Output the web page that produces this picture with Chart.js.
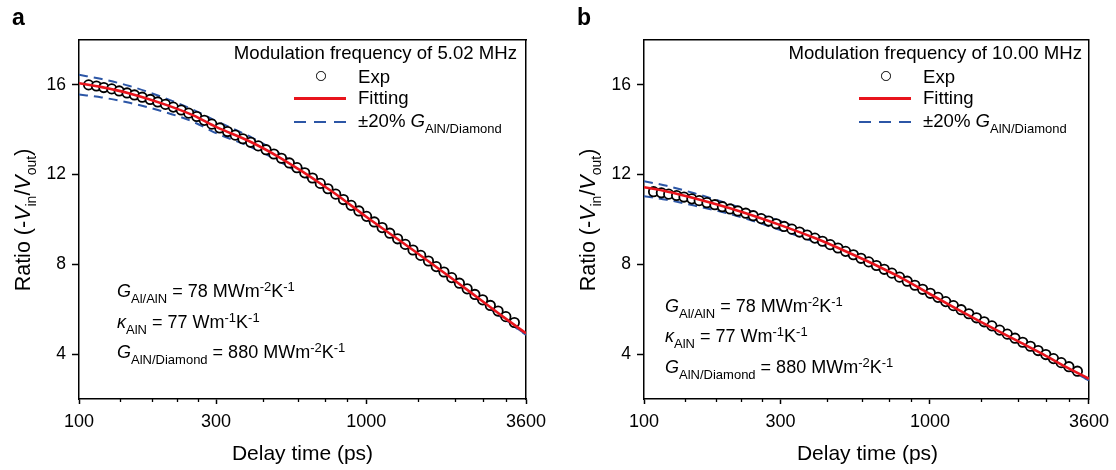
<!DOCTYPE html>
<html>
<head>
<meta charset="utf-8">
<script src="https://cdn.jsdelivr.net/npm/chart.js@4.4.1/dist/chart.umd.min.js"></script>
<style>
  html, body { margin:0; padding:0; background:#fff; }
  body { width:1116px; height:470px; position:relative; overflow:hidden;
         font-family:"Liberation Sans", Arial, Helvetica, sans-serif; color:#000; }
  canvas { position:absolute; top:0; }
  .txt { position:absolute; white-space:nowrap; line-height:1; }
  .sub { font-size:13px; position:relative; top:6px; }
  .sup { font-size:13px; position:relative; top:-6px; }
  .ytitle { position:absolute; white-space:nowrap; line-height:1; font-size:21.5px;
            transform:translate(-50%,-50%) rotate(-90deg); }
  .ytitle .sub { font-size:14px; top:6px; }
  .sym { position:absolute; }
</style>
</head>
<body>
<canvas id="chartA" width="558" height="470" style="left:0;width:558px;height:470px"></canvas>
<canvas id="chartB" width="558" height="470" style="left:558px;width:558px;height:470px"></canvas>
<script>
// measured delay times (ps), same sampling in both panels
const delayPs = [108, 115, 122, 130, 138, 147, 156, 166, 177, 188, 200, 213, 227, 241, 257, 273,
  290, 309, 329, 350, 372, 396, 421, 448, 477, 507, 540, 574, 611, 650, 692, 736, 783, 833, 886,
  943, 1003, 1067, 1136, 1208, 1286, 1368, 1455, 1548, 1647, 1753, 1865, 1984, 2111, 2246, 2390,
  2543, 2705, 2878, 3063, 3280];

// a: 5.02 MHz
const ratioExpA = [16.00, 15.95, 15.88, 15.82, 15.73, 15.64, 15.55, 15.45, 15.35, 15.24, 15.13,
  15.01, 14.88, 14.74, 14.59, 14.42, 14.25, 14.08, 13.92, 13.76, 13.60, 13.44, 13.28, 13.11, 12.92,
  12.73, 12.52, 12.31, 12.08, 11.85, 11.61, 11.37, 11.13, 10.89, 10.63, 10.38, 10.14, 9.89, 9.64,
  9.39, 9.14, 8.89, 8.64, 8.40, 8.15, 7.90, 7.66, 7.41, 7.16, 6.91, 6.66, 6.42, 6.17, 5.92, 5.67, 5.41];

// b: 10.00 MHz
const ratioExpB = [11.24, 11.19, 11.13, 11.07, 11.00, 10.92, 10.84, 10.75, 10.66, 10.57, 10.47,
  10.38, 10.28, 10.17, 10.04, 9.93, 9.81, 9.69, 9.57, 9.44, 9.31, 9.17, 9.03, 8.88, 8.73, 8.58,
  8.43, 8.27, 8.11, 7.95, 7.78, 7.61, 7.43, 7.25, 7.07, 6.89, 6.71, 6.53, 6.34, 6.16, 5.98, 5.80,
  5.62, 5.44, 5.26, 5.07, 4.89, 4.71, 4.53, 4.35, 4.16, 3.98, 3.80, 3.62, 3.44, 3.24];

// model curves
const fitDelayPs = [100, 120, 150, 200, 250, 300, 400, 500, 600, 700, 800, 1000, 1200, 1500, 2000, 2500, 3000, 3600];
const ratioFitA   = [16.07, 15.90, 15.62, 15.12, 14.64, 14.13, 13.43, 12.76, 12.13, 11.56, 11.05, 10.12, 9.40, 8.52, 7.35, 6.42, 5.66, 4.93];
const ratioUpperA = [16.45, 16.26, 15.95, 15.40, 14.89, 14.39, 13.65, 12.94, 12.28, 11.68, 11.14, 10.17, 9.42, 8.49, 7.30, 6.36, 5.60, 4.87];
const ratioLowerA = [15.57, 15.44, 15.20, 14.78, 14.35, 13.85, 13.21, 12.58, 11.98, 11.43, 10.94, 10.03, 9.32, 8.44, 7.26, 6.34, 5.58, 4.86];
const ratioFitB   = [11.44, 11.25, 10.95, 10.50, 10.10, 9.75, 9.15, 8.62, 8.16, 7.75, 7.38, 6.68, 6.12, 5.45, 4.62, 3.98, 3.42, 2.90];
const ratioUpperB = [11.71, 11.50, 11.17, 10.68, 10.26, 9.93, 9.30, 8.74, 8.26, 7.82, 7.43, 6.70, 6.10, 5.40, 4.56, 3.92, 3.36, 2.84];
const ratioLowerB = [11.04, 10.88, 10.62, 10.24, 9.87, 9.53, 8.98, 8.48, 8.04, 7.65, 7.29, 6.60, 6.06, 5.38, 4.54, 3.90, 3.35, 2.83];

const xMajorTicks = [100, 300, 1000, 3600];
const xMinorTicks = [140, 180, 220, 260, 440, 580, 720, 860, 1520, 2040, 2560, 3080];
const yTicks = [4, 8, 12, 16];

const FONT = '"Liberation Sans", Arial, Helvetica, sans-serif';
const RED = '#e8141c';
const BLUE = '#2c56a6';

const pts = (xs, ys) => xs.map((x, i) => ({ x, y: ys[i] }));
const fixW = w => s => { s.width = w; };
const fixH = h => s => { s.height = h; };
const setTicks = list => s => { s.ticks = list.map(v => ({ value: v })); };

function makePanel(id, plotLeft, padRight, exp, fit, upper, lower) {
  const dashed = ys => ({
    data: pts(fitDelayPs, ys), borderColor: BLUE, borderWidth: 2, borderDash: [9, 6],
    pointRadius: 0, cubicInterpolationMode: 'monotone', order: 2
  });
  const frame = { color: '#000', width: 1.5 };
  return new Chart(document.getElementById(id), {
    type: 'line',
    data: {
      datasets: [
        { data: pts(fitDelayPs, fit), borderColor: RED, borderWidth: 2.6, pointRadius: 0,
          cubicInterpolationMode: 'monotone', order: 0 },
        { data: pts(delayPs, exp), showLine: false, pointRadius: 4.7, pointBorderWidth: 1.8,
          pointBorderColor: '#000', pointBackgroundColor: '#fff', borderColor: '#000', order: 1 },
        dashed(upper),
        dashed(lower)
      ]
    },
    options: {
      responsive: false, animation: false, events: [],
      layout: { padding: { left: 0, top: 40, right: padRight, bottom: 41 } },
      plugins: { legend: { display: false }, tooltip: { enabled: false } },
      scales: {
        x: { type: 'logarithmic', position: 'bottom', min: 100, max: 3600, weight: 0,
             afterBuildTicks: setTicks(xMajorTicks), afterFit: fixH(30),
             grid: { drawOnChartArea: false, tickLength: 5, tickWidth: 1.5, tickColor: '#000' },
             border: frame,
             ticks: { color: '#000', font: { family: FONT, size: 18 }, padding: 7,
                      autoSkip: false, maxRotation: 0, minRotation: 0, callback: v => String(v) } },
        xm: { type: 'logarithmic', position: 'bottom', min: 100, max: 3600, weight: -1,
              afterBuildTicks: setTicks(xMinorTicks), afterFit: fixH(0),
              grid: { drawOnChartArea: false, tickLength: 3, tickWidth: 1.3, tickColor: '#000' },
              border: { display: false }, ticks: { display: false } },
        xt: { type: 'logarithmic', position: 'top', min: 100, max: 3600, afterFit: fixH(0),
              grid: { display: false }, ticks: { display: false }, border: frame },
        y: { type: 'linear', position: 'left', min: 2, max: 18,
             afterBuildTicks: setTicks(yTicks), afterFit: fixW(plotLeft),
             grid: { drawOnChartArea: false, tickLength: 7, tickWidth: 1.5, tickColor: '#000' },
             border: frame,
             ticks: { color: '#000', font: { family: FONT, size: 17.5 }, padding: 6 } },
        yr: { type: 'linear', position: 'right', min: 2, max: 18, afterFit: fixW(0),
              grid: { display: false }, ticks: { display: false }, border: frame }
      }
    }
  });
}

makePanel('chartA', 79, 32, ratioExpA, ratioFitA, ratioUpperA, ratioLowerA);
makePanel('chartB', 86, 25, ratioExpB, ratioFitB, ratioUpperB, ratioLowerB);

// ---- text overlays (sub/superscripts) ----
function addText(html, x, base, size, extra = '') {
  const d = document.createElement('div');
  d.className = 'txt';
  d.style.cssText = `left:${x}px;top:${(base - 0.8465 * size).toFixed(1)}px;font-size:${size}px;${extra}`;
  d.innerHTML = html;
  document.body.appendChild(d);
}
function addSym(html, css) {
  const d = document.createElement('div');
  d.className = 'sym';
  d.style.cssText = css;
  d.innerHTML = html;
  document.body.appendChild(d);
}

const panels = [
  { L: 79,  letter: 'a', freq: '5.02',  annX: 117, annY: [297, 328, 358] },
  { L: 644, letter: 'b', freq: '10.00', annX: 665, annY: [312, 342, 373] }
];

panels.forEach(p => {
  const L = p.L;
  addText(p.letter, L - 67, 25, 23, 'font-weight:bold');

  // legend block
  addText(`Modulation frequency of ${p.freq} MHz`, L + 438, 60, 18.6, 'transform:translateX(-100%)');
  addSym('', `left:${L + 237}px;top:71px;width:7.5px;height:7.5px;border:1.9px solid #000;border-radius:50%;background:#fff`);
  addText('Exp', L + 279, 83.5, 18.6);
  addSym('', `left:${L + 215}px;top:97px;width:52px;height:2.6px;background:${RED}`);
  addText('Fitting', L + 279, 105, 18.6);
  addSym(`<svg width="52" height="4"><line x1="0" y1="2" x2="52" y2="2" stroke="${BLUE}" stroke-width="2.2" stroke-dasharray="12 8"/></svg>`,
         `left:${L + 215}px;top:118.5px;width:52px;height:4px;line-height:0`);
  addText('±20% <i>G</i><span class="sub">AlN/Diamond</span>', L + 279, 127.5, 18.6);

  // fitted parameters
  addText('<i>G</i><span class="sub">Al/AlN</span> = 78 MWm<span class="sup">-2</span>K<span class="sup">-1</span>', p.annX, p.annY[0], 18);
  addText('<i>κ</i><span class="sub">AlN</span> = 77 Wm<span class="sup">-1</span>K<span class="sup">-1</span>', p.annX, p.annY[1], 18);
  addText('<i>G</i><span class="sub">AlN/Diamond</span> = 880 MWm<span class="sup">-2</span>K<span class="sup">-1</span>', p.annX, p.annY[2], 18);

  // axis titles
  addText('Delay time (ps)', L + 223.5, 460, 21, 'transform:translateX(-50%)');
  const yt = document.createElement('div');
  yt.className = 'ytitle';
  yt.style.left = (L - 55) + 'px';
  yt.style.top = '219.5px';
  yt.innerHTML = 'Ratio (-<i>V</i><span class="sub">in</span>/<i>V</i><span class="sub">out</span>)';
  document.body.appendChild(yt);
});
</script>
</body>
</html>
